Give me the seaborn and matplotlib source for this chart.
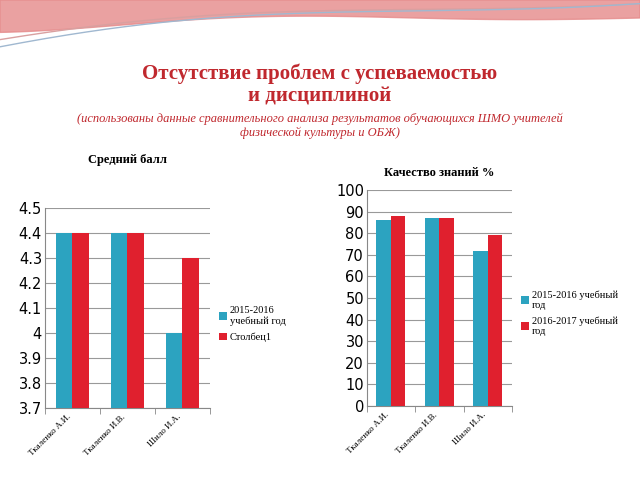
import numpy as np
import pandas as pd
import matplotlib
matplotlib.use("Agg")
import matplotlib.pyplot as plt
import seaborn as sns

teachers = ["Ткаленко А.И.", "Ткаленко И.В.", "Шило И.А."]
avg_2015 = [4.4, 4.4, 4.0]
avg_col1 = [4.4, 4.4, 4.3]
quality_2015 = [86, 87, 72]
quality_2016 = [88, 87, 79]
left_series = ["2015-2016\nучебный год", "Столбец1"]
right_series = ["2015-2016 учебный\nгод", "2016-2017 учебный\nгод"]
left_ticks = [3.7, 3.8, 3.9, 4, 4.1, 4.2, 4.3, 4.4, 4.5]
left_ticklabels = ["3.7", "3.8", "3.9", "4", "4.1", "4.2", "4.3", "4.4", "4.5"]
right_ticks = list(range(0, 101, 10))

TEAL = "#2ca3c0"
RED = "#e0202e"
SERIF = "Liberation Serif"

fig = plt.figure(figsize=(6.4, 4.8), dpi=100)

# decorative header waves
deco = fig.add_axes([0, 0.85, 1, 0.15])
deco.set_xlim(0, 1)
deco.set_ylim(0, 1)
deco.axis("off")
t = np.linspace(0, 1, 200)
deco.fill_between(t, 1, 0.55 + 0.25 * np.sin(np.pi * t) ** 2 * (1 - t) + 0.2 * t, color="#e58a8a", alpha=0.8)
deco.plot(t, 0.45 + 0.3 * np.sin(np.pi * t) * (1 - t) + 0.5 * t, color="#d9a0a0", lw=1)
deco.plot(t, 0.35 + 0.35 * np.sin(np.pi * t) * (1 - t) + 0.6 * t, color="#a0b8d0", lw=1)

fig.text(0.5, 0.823, "Отсутствие проблем с успеваемостью\nи дисциплиной", ha="center", va="center",
         fontsize=15, fontweight="bold", color="#c0282e", family=SERIF, linespacing=1.15)
fig.text(0.5, 0.737, "(использованы данные сравнительного анализа результатов обучающихся ШМО учителей\nфизической культуры и ОБЖ)",
         ha="center", va="center", fontsize=9, style="italic", color="#c0282e", family=SERIF)


def draw(ax, v1, v2, names, title, ylim, ticks, ticklabels, legend_pos):
    df = pd.DataFrame({"teacher": teachers * 2, "value": v1 + v2,
                       "series": [names[0]] * 3 + [names[1]] * 3})
    sns.barplot(data=df, x="teacher", y="value", hue="series", palette=[TEAL, RED],
                ax=ax, width=0.6, saturation=1, zorder=3)
    ax.set_ylim(*ylim)
    ax.set_yticks(ticks)
    ax.set_yticklabels(ticklabels, fontsize=10.5)
    ax.yaxis.grid(True, color="#999999", lw=0.8, zorder=0)
    ax.set_xlabel("")
    ax.set_ylabel("")
    ax.tick_params(axis="y", length=0, pad=2)
    ax.set_xticks([-0.5, 0.5, 1.5, 2.5], minor=True)
    ax.tick_params(axis="x", which="major", length=0)
    ax.tick_params(axis="x", which="minor", length=4, color="#888888")
    for lbl in ax.get_xticklabels():
        lbl.set_rotation(45)
        lbl.set_ha("right")
        lbl.set_fontsize(6.5)
        lbl.set_family(SERIF)
    for s in ["top", "right"]:
        ax.spines[s].set_visible(False)
    ax.spines["left"].set_color("#888888")
    ax.spines["bottom"].set_color("#888888")
    ax.set_title(title, fontsize=9, fontweight="bold", family=SERIF, pad=legend_pos[2])
    ax.legend(loc="center left", bbox_to_anchor=legend_pos[:2], frameon=False,
              prop={"family": SERIF, "size": 7.5}, handlelength=0.7, handleheight=0.7,
              handletextpad=0.3, labelspacing=0.6)


ax1 = fig.add_axes([0.070, 0.15, 0.258, 0.417])
draw(ax1, avg_2015, avg_col1, left_series, "Средний балл", (3.7, 4.5),
     left_ticks, left_ticklabels, (1.0, 0.42, 32))
ax1.set_xlim(-0.5, 2.5)

ax2 = fig.add_axes([0.573, 0.154, 0.227, 0.45])
draw(ax2, quality_2015, quality_2016, right_series, "Качество знаний %", (0, 100),
     right_ticks, [str(v) for v in right_ticks], (1.0, 0.43, 10))
ax2.set_xlim(-0.5, 2.5)

fig.savefig("out.png", dpi=100)
